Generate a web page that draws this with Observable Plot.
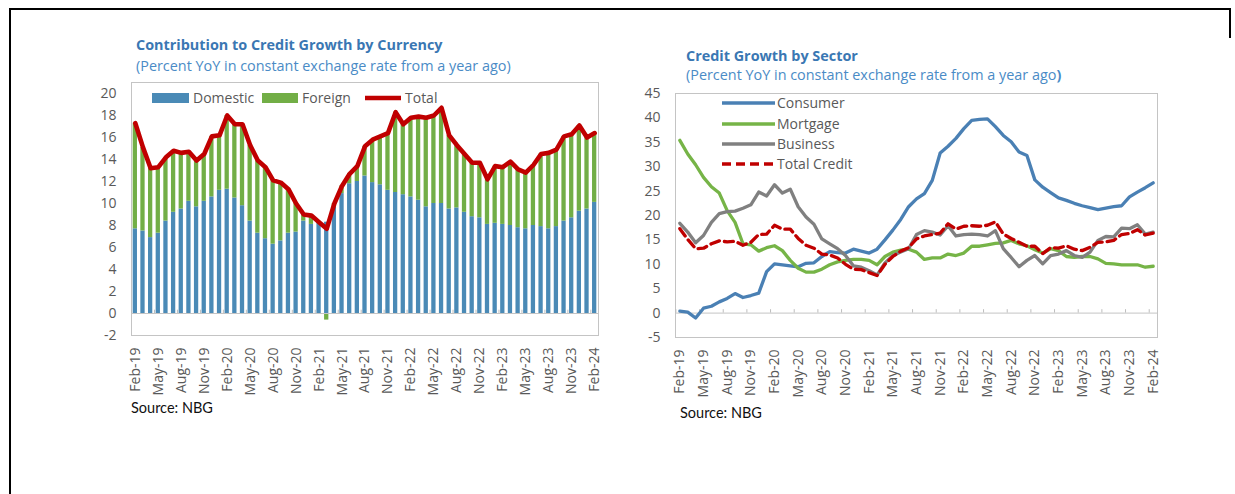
<!DOCTYPE html>
<html>
<head>
<meta charset="utf-8">
<script src="https://cdn.jsdelivr.net/npm/d3@7"></script>
<script src="https://cdn.jsdelivr.net/npm/@observablehq/plot@0.6"></script>
<style>
  body { margin: 0; background: #fff; }
  #wrap { position: relative; width: 1235px; height: 494px; background: #fff; overflow: hidden; }
  .abs { position: absolute; white-space: nowrap; line-height: 1; }
  .title { font-family: 'Open Sans', sans-serif; font-weight: bold; font-size: 14.4px; color: #3A77B3; }
  .sub { font-family: 'Open Sans', sans-serif; font-size: 14.4px; color: #4A8BC6; }
  .src { font-family: Lato, sans-serif; font-size: 14.5px; color: #111; }
</style>
</head>
<body>
<div id="wrap">
  <div class="abs" style="left:9px;top:8px;width:1222px;height:2px;background:#000"></div>
  <div class="abs" style="left:9px;top:8px;width:2px;height:486px;background:#000"></div>
  <div class="abs" style="left:1229px;top:8px;width:2px;height:30px;background:#000"></div>

  <div class="abs title" style="left:136px;top:38px">Contribution to Credit Growth by Currency</div>
  <div class="abs sub" style="left:136px;top:59px">(Percent YoY in constant exchange rate from a year ago)</div>
  <div class="abs title" style="left:686px;top:49px">Credit Growth by Sector</div>
  <div class="abs sub" style="left:686px;top:68px">(Percent YoY in constant exchange rate from a year ago<b>)</b></div>

  <div id="left" class="abs" style="left:60px;top:75px"></div>
  <div id="right" class="abs" style="left:600px;top:85px"></div>

  <div class="abs src" style="left:131px;top:401px">Source: NBG</div>
  <div class="abs src" style="left:680px;top:406px">Source: NBG</div>

  <svg class="abs" id="legend" width="1235" height="494" style="left:0;top:0;pointer-events:none;font-family:'Open Sans',sans-serif;font-size:14px;fill:#595959"></svg>
</div>
<script>
// ---- Categories ----
const months = ["Feb-19","Mar-19","Apr-19","May-19","Jun-19","Jul-19","Aug-19","Sep-19","Oct-19","Nov-19","Dec-19",
  "Jan-20","Feb-20","Mar-20","Apr-20","May-20","Jun-20","Jul-20","Aug-20","Sep-20","Oct-20","Nov-20","Dec-20",
  "Jan-21","Feb-21","Mar-21","Apr-21","May-21","Jun-21","Jul-21","Aug-21","Sep-21","Oct-21","Nov-21","Dec-21",
  "Jan-22","Feb-22","Mar-22","Apr-22","May-22","Jun-22","Jul-22","Aug-22","Sep-22","Oct-22","Nov-22","Dec-22",
  "Jan-23","Feb-23","Mar-23","Apr-23","May-23","Jun-23","Jul-23","Aug-23","Sep-23","Oct-23","Nov-23","Dec-23",
  "Jan-24","Feb-24"];
const xTickLabels = ["Feb-19","May-19","Aug-19","Nov-19","Feb-20","May-20","Aug-20","Nov-20","Feb-21","May-21","Aug-21",
  "Nov-21","Feb-22","May-22","Aug-22","Nov-22","Feb-23","May-23","Aug-23","Nov-23","Feb-24"];
const yTicksLeft = [-2,0,2,4,6,8,10,12,14,16,18,20];
const yTicksRight = [-5,0,5,10,15,20,25,30,35,40,45];

// ---- Left chart series ----
const domestic = [7.7,7.5,6.9,7.3,8.4,9.2,9.5,10.2,9.7,10.2,
  10.6,11.2,11.3,10.5,9.8,8.4,7.3,6.8,6.3,6.6,
  7.3,7.4,8.4,8.1,8.2,8.3,9.7,10.9,11.8,12.0,
  12.5,11.9,11.7,11.2,11.0,10.8,10.6,10.3,9.7,10.0,
  10.0,9.5,9.6,9.2,8.8,8.7,8.1,8.2,8.1,8.0,
  7.8,7.7,8.0,7.9,7.7,7.9,8.4,8.7,9.3,9.5,
  10.1];
const foreign = [9.6,7.6,6.3,6.0,5.8,5.6,5.1,4.5,4.2,4.3,
  5.5,5.0,6.7,6.7,7.4,6.9,6.6,6.5,5.8,5.3,
  4.0,2.6,0.6,0.8,0.1,-0.6,0.3,0.7,0.9,1.4,
  2.7,3.9,4.4,5.2,7.3,6.4,7.2,7.6,8.1,8.0,
  8.7,6.7,5.7,5.3,4.9,5.0,4.1,5.2,5.2,5.8,
  5.3,5.1,5.5,6.6,6.9,7.0,7.7,7.6,7.8,6.5,
  6.3];
const total = [17.3,15.1,13.2,13.3,14.2,14.8,14.6,14.7,13.9,14.5,
  16.1,16.2,18.0,17.2,17.2,15.3,13.9,13.3,12.1,11.9,
  11.3,10.0,9.0,8.9,8.3,7.7,10.0,11.6,12.7,13.4,
  15.2,15.8,16.1,16.4,18.3,17.2,17.8,17.9,17.8,18.0,
  18.7,16.2,15.3,14.5,13.7,13.7,12.2,13.4,13.3,13.8,
  13.1,12.8,13.5,14.5,14.6,14.9,16.1,16.3,17.1,16.0,
  16.4];

// ---- Right chart series ----
const consumer = [0.4,0.2,-1.0,1.0,1.4,2.3,3.0,4.0,3.2,3.6,
  4.1,8.5,10.1,9.9,9.7,9.5,10.2,10.3,11.6,12.6,
  12.4,12.3,13.1,12.7,12.3,13.1,15.0,17.0,19.2,21.8,
  23.4,24.5,27.2,32.8,34.2,35.8,37.8,39.5,39.7,39.8,
  38.2,36.4,35.1,33.0,32.3,27.3,25.8,24.7,23.6,23.1,
  22.5,22.0,21.6,21.2,21.5,21.8,22.0,23.8,24.8,25.7,
  26.7];
const mortgage = [35.4,32.6,30.4,27.8,25.9,24.6,21.0,18.6,14.2,14.0,
  12.7,13.4,13.8,12.8,10.8,9.2,8.4,8.4,9.0,9.9,
  10.5,10.8,11.0,11.0,10.8,9.9,11.6,12.5,12.9,13.1,
  12.5,11.0,11.3,11.3,12.1,11.8,12.3,13.7,13.7,14.0,
  14.3,14.4,14.9,14.2,13.8,13.0,12.3,13.2,12.8,11.6,
  11.4,11.6,11.6,11.1,10.2,10.1,9.9,9.9,9.9,9.4,
  9.6];
const business = [18.4,16.6,14.4,15.9,18.6,20.4,20.8,20.9,21.5,22.2,
  24.8,24.0,26.3,24.6,25.4,21.8,19.7,18.2,15.2,14.2,
  13.2,11.8,9.7,9.4,8.7,7.8,10.3,11.8,12.5,13.2,
  16.1,16.9,16.6,16.0,17.9,15.8,16.1,16.2,16.1,15.8,
  16.9,13.2,11.4,9.5,10.8,11.8,10.1,11.8,12.1,12.8,
  11.8,11.4,12.5,14.9,15.7,15.6,17.4,17.3,18.1,16.2,
  16.6];

// ---- Colors ----
const cDom = "#4A8AB6", cFor = "#72AE46", cTot = "#C00000";
const cCons = "#4A80B4", cMort = "#76B447", cBus = "#808080";

const baseStyle = {fontFamily: "'Open Sans', sans-serif", fontSize: "14px", color: "#595959", background: "transparent", overflow: "visible"};
const plainFmt = d => String(d);

// ---- Left chart ----
const barRows = [];
months.forEach((m, i) => barRows.push({month: m, series: "Domestic", value: domestic[i]}));
months.forEach((m, i) => barRows.push({month: m, series: "Foreign", value: foreign[i]}));
const totRows = months.map((m, i) => ({month: m, total: total[i]}));

const LW = 560, LH = 340, LML = 71, LMR = 22;
const stepL = (LW - LML - LMR) / months.length;
const left = Plot.plot({
  width: LW, height: LH, marginLeft: LML, marginRight: LMR, marginTop: 7, marginBottom: 80,
  style: baseStyle,
  x: {type: "band", domain: months, paddingInner: 0.44, paddingOuter: 0.22, ticks: xTickLabels, tickRotate: -90, tickSize: 0, tickPadding: 12, label: null},
  y: {domain: [-2, 21], ticks: yTicksLeft, tickFormat: plainFmt, tickSize: 0, tickPadding: 15, label: null},
  color: {domain: ["Domestic", "Foreign"], range: [cDom, cFor]},
  marks: [
    Plot.frame({stroke: "#C4C4C4"}),
    Plot.barY(barRows, {x: "month", y: "value", fill: "series"}),
    Plot.ruleY([0], {stroke: "#C4C4C4"}),
    Plot.ruleX(xTickLabels, {x: d => d, y1: 0, y2: 0.3, dx: -stepL / 2, stroke: "#BDBDBD"}),
    Plot.line(totRows, {x: "month", y: "total", stroke: cTot, strokeWidth: 4.6, strokeLinejoin: "round", strokeLinecap: "round"})
  ]
});
document.getElementById("left").appendChild(left);

// ---- Right chart ----
const secRows = months.map((m, i) => ({month: m, consumer: consumer[i], mortgage: mortgage[i], business: business[i], total: total[i]}));
const RW = 580, RH = 340, RML = 75, RMR = 23;
const stepR = (RW - RML - RMR) / months.length;
const right = Plot.plot({
  width: RW, height: RH, marginLeft: RML, marginRight: RMR, marginTop: 8, marginBottom: 88,
  style: baseStyle,
  x: {type: "band", domain: months, ticks: xTickLabels, tickRotate: -90, tickSize: 0, tickPadding: 12, label: null},
  y: {domain: [-5, 45], ticks: yTicksRight, tickFormat: plainFmt, tickSize: 0, tickPadding: 15, label: null},
  marks: [
    Plot.frame({stroke: "#C4C4C4"}),
    Plot.ruleY([0], {stroke: "#C4C4C4"}),
    Plot.ruleX(xTickLabels, {x: d => d, y1: 0, y2: 0.7, dx: -stepR / 2, stroke: "#BDBDBD"}),
    Plot.line(secRows, {x: "month", y: "consumer", stroke: cCons, strokeWidth: 3.3, strokeLinejoin: "round"}),
    Plot.line(secRows, {x: "month", y: "mortgage", stroke: cMort, strokeWidth: 3.3, strokeLinejoin: "round"}),
    Plot.line(secRows, {x: "month", y: "business", stroke: cBus, strokeWidth: 3.3, strokeLinejoin: "round"}),
    Plot.line(secRows, {x: "month", y: "total", stroke: cTot, strokeWidth: 3.3, strokeDasharray: "9,5", strokeLinejoin: "round"})
  ]
});
document.getElementById("right").appendChild(right);

// ---- Legends ----
const lg = d3.select("#legend");
lg.append("rect").attr("x", 152).attr("y", 93).attr("width", 37).attr("height", 10).attr("fill", cDom);
lg.append("text").attr("x", 193).attr("y", 98).attr("dy", "0.35em").text("Domestic");
lg.append("rect").attr("x", 262).attr("y", 93).attr("width", 36).attr("height", 10).attr("fill", cFor);
lg.append("text").attr("x", 302).attr("y", 98).attr("dy", "0.35em").text("Foreign");
lg.append("line").attr("x1", 365).attr("x2", 401).attr("y1", 98).attr("y2", 98).attr("stroke", cTot).attr("stroke-width", 4.6);
lg.append("text").attr("x", 405).attr("y", 98).attr("dy", "0.35em").text("Total");
const rl = [
  {name: "Consumer", color: cCons, dash: null, y: 103},
  {name: "Mortgage", color: cMort, dash: null, y: 124},
  {name: "Business", color: cBus, dash: null, y: 144},
  {name: "Total Credit", color: cTot, dash: "9,5", y: 164}
];
rl.forEach(d => {
  const ln = lg.append("line").attr("x1", 722).attr("x2", 775).attr("y1", d.y).attr("y2", d.y).attr("stroke", d.color).attr("stroke-width", 3.3);
  if (d.dash) ln.attr("stroke-dasharray", d.dash);
  lg.append("text").attr("x", 777).attr("y", d.y).attr("dy", "0.35em").text(d.name);
});
</script>
</body>
</html>
